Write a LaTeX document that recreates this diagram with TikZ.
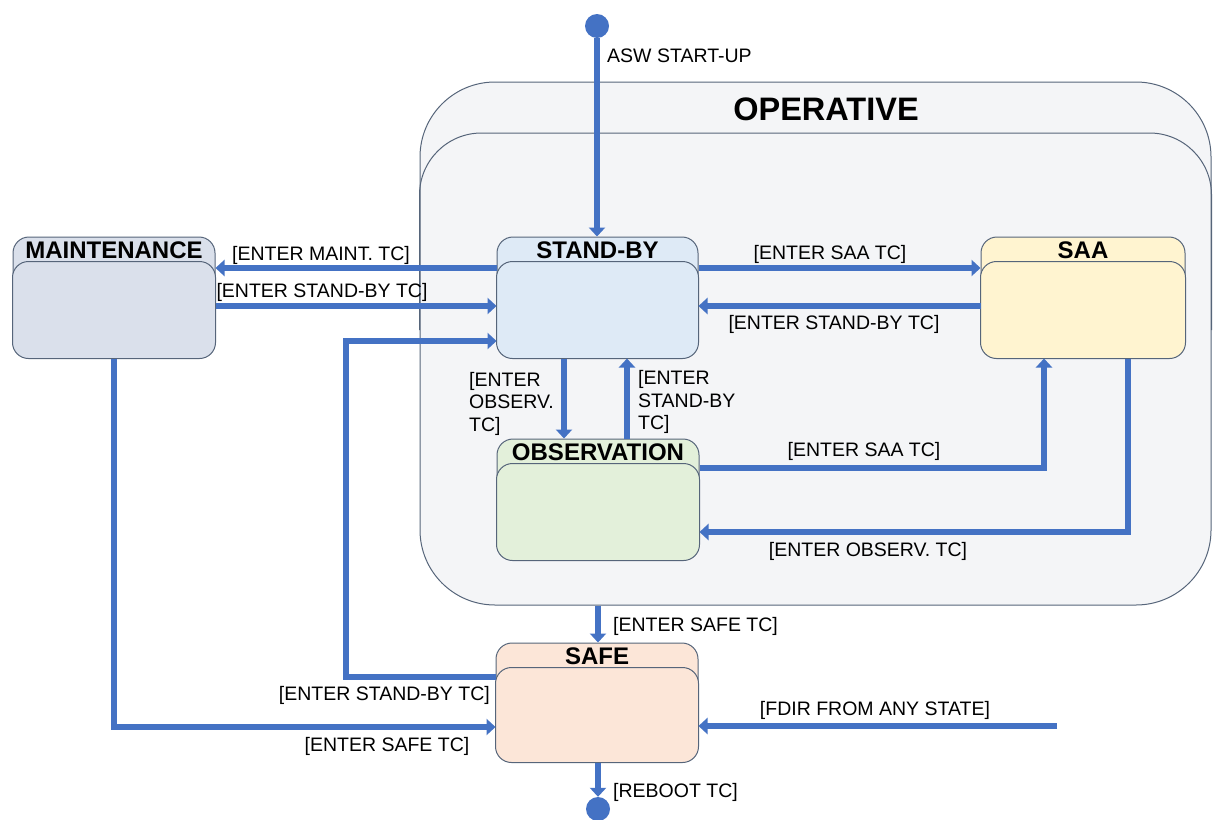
\documentclass[tikz,border=0pt]{standalone}
\usepackage{fontspec}
\setmainfont{Liberation Sans}
\usetikzlibrary{arrows.meta,fit}
\definecolor{edgec}{HTML}{56657A}
\definecolor{arrowc}{HTML}{4472C4}
\definecolor{opfill}{HTML}{F4F5F7}
\definecolor{mtfill}{HTML}{DAE0EB}
\definecolor{sbfill}{HTML}{DEEAF6}
\definecolor{saafill}{HTML}{FFF4D0}
\definecolor{obsfill}{HTML}{E3F0DA}
\definecolor{safefill}{HTML}{FCE6D8}
\tikzset{
  stateout/.style={draw=edgec, line width=1pt, rounded corners=16pt, inner sep=0pt},
  statein/.style={draw=edgec, line width=1pt, rounded corners=16pt},
  sttitle/.style={font=\bfseries\fontsize{24}{28}\selectfont, inner sep=0pt},
  lbl/.style={font=\fontsize{19.5}{23}\selectfont, inner sep=0pt},
  conn/.style={draw=arrowc, line width=6.5pt, -{Triangle[length=9pt,width=16pt]}},
  dotnode/.style={circle, fill=arrowc, minimum size=24pt, inner sep=0pt},
}
\newcommand\mkstate[7]{%
  \node[stateout, fill=#6, fit={(#2,#3)(#4,#5)}] (#1) {};
  \draw[statein, fill=#6] (#1.south west) rectangle ([yshift=-25pt]#1.north east);
  \node[sttitle] (#1-t) at ([yshift=-14pt]#1.north) {#7};
}
\begin{document}
\begin{tikzpicture}[x=1pt,y=-1pt]
\useasboundingbox (0,0) rectangle (1214,819);
% operative composite state
\node[draw=edgec, line width=1pt, fill=opfill, rounded corners=75pt, inner sep=0pt,
      fit={(420,82)(1211,605)}] (op) {};
\draw[draw=edgec, line width=1pt, rounded corners=62pt]
  (op.west |- 0,330) -- (op.west |- 0,133) -- (op.east |- 0,133) -- (op.east |- 0,330);
\node[font=\bfseries\fontsize{32.5}{36}\selectfont, inner sep=0pt, anchor=base] (op-t) at (826,120) {OPERATIVE};
% states
\mkstate{mt}{13}{237}{215}{358}{mtfill}{MAINTENANCE}
\mkstate{sb}{497}{237}{698}{358}{sbfill}{STAND-BY}
\mkstate{saa}{981}{237}{1185}{358}{saafill}{SAA}
\mkstate{obs}{497}{439}{699}{560}{obsfill}{OBSERVATION}
\mkstate{safe}{496}{643}{698}{762}{safefill}{SAFE}
% pseudo states
\node[dotnode] (start) at (597,26) {};
\node[dotnode] (stop) at (598,809) {};
\coordinate (fdir) at (1057,726);
% connectors
\draw[conn] (start) -- (start |- sb.north);
\draw[conn] (sb.west |- 0,268) -- (mt.east |- 0,268);
\draw[conn] (mt.east |- 0,306) -- (sb.west |- 0,306);
\draw[conn] (safe.west |- 0,677) -| (346,341) -- (sb.west |- 0,341);
\draw[conn] (mt.south -| 114,0) |- (safe.west |- 0,727);
\draw[conn] (sb.east |- 0,268) -- (saa.west |- 0,268);
\draw[conn] (saa.west |- 0,306) -- (sb.east |- 0,306);
\draw[conn] (sb.south -| 564,0) -- (obs.north -| 564,0);
\draw[conn] (obs.north -| 627,0) -- (sb.south -| 627,0);
\draw[conn] (obs.east |- 0,468) -| (saa.south -| 1044,0);
\draw[conn] (saa.south -| 1128,0) |- (obs.east |- 0,532);
\draw[conn] (op.south -| 598,0) -- (safe.north -| 598,0);
\draw[conn] (fdir) -- (safe.east |- fdir);
\draw[conn] (safe.south -| 598,0) -- (stop.north);
% labels
\node[lbl, anchor=base west] (l-asw) at (607,62) {ASW START-UP};
\node[lbl, anchor=base] (l1) at (321,260) {[ENTER MAINT. TC]};
\node[lbl, anchor=base] (l2) at (322,297) {[ENTER STAND-BY TC]};
\node[lbl, anchor=base] (l3) at (830,259) {[ENTER SAA TC]};
\node[lbl, anchor=base] (l4) at (834,329) {[ENTER STAND-BY TC]};
\node[lbl, anchor=base west] (l5a) at (469,386) {[ENTER};
\node[lbl, anchor=base west] (l5b) at (469,408) {OBSERV.};
\node[lbl, anchor=base west] (l5c) at (469,431) {TC]};
\node[lbl, anchor=base west] (l6a) at (638,384) {[ENTER};
\node[lbl, anchor=base west] (l6b) at (638,407) {STAND-BY};
\node[lbl, anchor=base west] (l6c) at (638,429) {TC]};
\node[lbl, anchor=base] (l7) at (864,456) {[ENTER SAA TC]};
\node[lbl, anchor=base] (l8) at (868,556) {[ENTER OBSERV. TC]};
\node[lbl, anchor=base west] (l9) at (613,631) {[ENTER SAFE TC]};
\node[lbl, anchor=base east] (l10) at (490,700) {[ENTER STAND-BY TC]};
\node[lbl, anchor=base] (l11) at (387,751) {[ENTER SAFE TC]};
\node[lbl, anchor=base] (l12) at (875,715) {[FDIR FROM ANY STATE]};
\node[lbl, anchor=base west] (l13) at (613,797) {[REBOOT TC]};
\end{tikzpicture}
\end{document}
